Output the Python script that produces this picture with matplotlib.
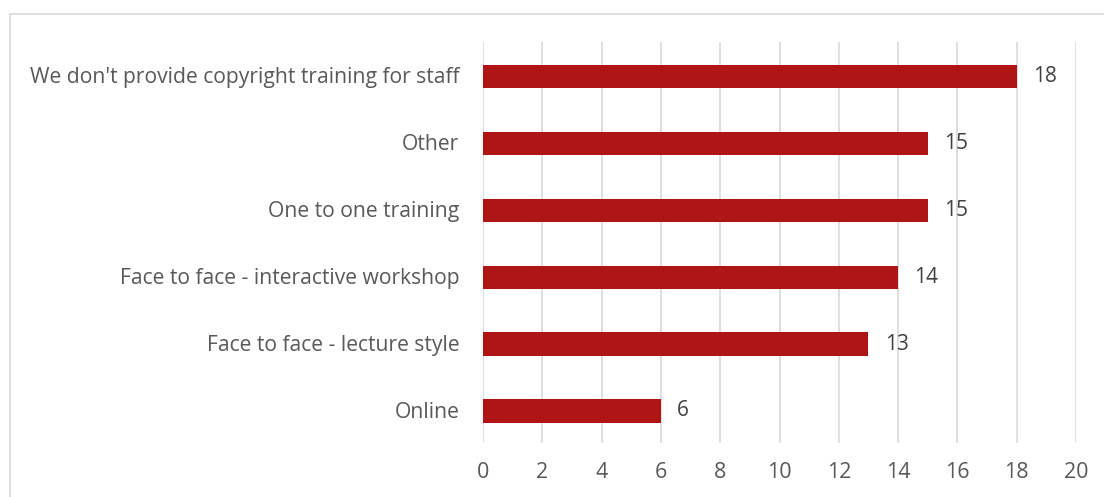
import matplotlib.pyplot as plt
from matplotlib.patches import Rectangle

categories = ["Online", "Face to face - lecture style", "Face to face - interactive workshop",
              "One to one training", "Other", "We don't provide copyright training for staff"]
values = [6, 13, 14, 15, 15, 18]
xticks = [0, 2, 4, 6, 8, 10, 12, 14, 16, 18, 20]

plt.rcParams['font.family'] = ['Open Sans', 'DejaVu Sans']
text_color = '#595959'
bar_color = '#B01515'
grid_color = '#D9D9D9'

fig = plt.figure(figsize=(11.04, 4.97), dpi=100)
ax = fig.add_axes([483 / 1104, 54 / 497, 593 / 1104, 401 / 497])

# outer chart border (cut off at right and bottom like the screenshot)
fig.patches.append(Rectangle((10 / 1104, -0.1), 1.2, (497 - 14) / 497 + 0.1,
                             transform=fig.transFigure, fill=False,
                             edgecolor=grid_color, linewidth=1.2))

y = range(len(categories))
ax.barh([yi - 0.02 for yi in y], values, height=0.35, color=bar_color, zorder=3)
for yi, v in zip(y, values):
    ax.text(v + 0.55, yi - 0.02, str(v), va='center', ha='left', fontsize=15, color='#404040')

ax.set_xlim(0, 20)
ax.set_ylim(-0.5, len(categories) - 0.5)
ax.set_xticks(xticks)
ax.set_yticks(list(y))
ax.set_yticklabels(categories)
ax.tick_params(axis='both', length=0, colors=text_color)
ax.tick_params(axis='x', pad=14, labelsize=15.5)
ax.tick_params(axis='y', pad=17, labelsize=15.2)
ax.xaxis.grid(True, color=grid_color, linewidth=1.2, zorder=0)
for s in ax.spines.values():
    s.set_visible(False)

plt.savefig("out.png", dpi=100)
plt.close()
